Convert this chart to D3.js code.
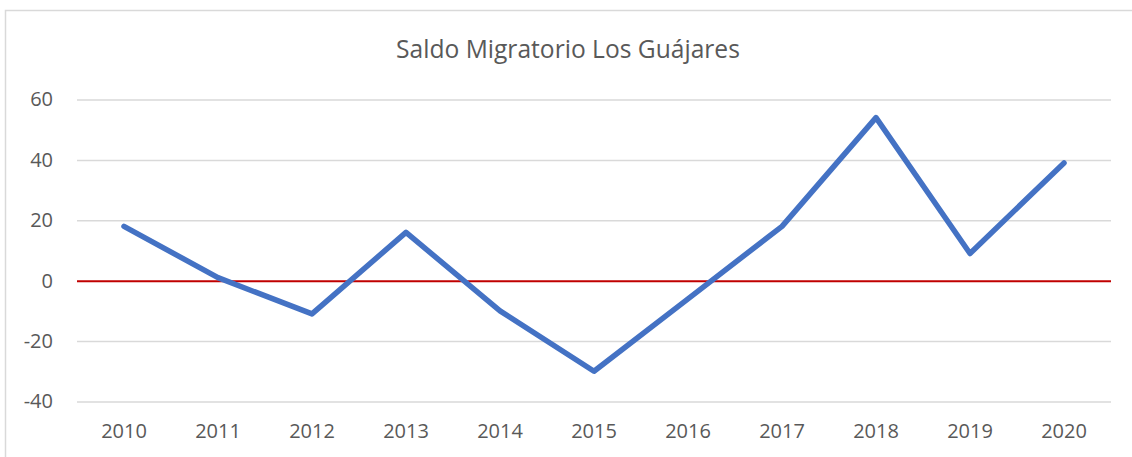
<!DOCTYPE html>
<html>
<head>
<meta charset="utf-8">
<script src="https://cdn.jsdelivr.net/npm/d3@7"></script>
<style>
body { margin: 0; background: #fff; }
text { font-family: "Open Sans", sans-serif; fill: #595959; }
</style>
</head>
<body>
<div id="chart"></div>
<script>
var years = ['2010','2011','2012','2013','2014','2015','2016','2017','2018','2019','2020'];
var saldo = [18, 1, -11, 16, -10, -30, -6, 18, 54, 9, 39];
var yTicks = [-40, -20, 0, 20, 40, 60];
var title = 'Saldo Migratorio Los Guájares';

var w = 1132,
	h = 457,
	plot_left = 77,
	plot_right = 1111,
	plot_top = 99.5,
	plot_bottom = 401.5;

var svg = d3.select('#chart').append('svg')
	.attr('width', w)
	.attr('height', h);

// chart frame
svg.append('rect')
	.attr('x', 5.5)
	.attr('y', 10.5)
	.attr('width', w + 20)
	.attr('height', h + 20)
	.attr('fill', '#fff')
	.attr('stroke', '#d9d9d9')
	.attr('stroke-width', 1.5);

var x = d3.scaleBand()
	.domain(years)
	.range([plot_left, plot_right]);

var y = d3.scaleLinear()
	.domain([-40, 60])
	.range([plot_bottom, plot_top]);

// gridlines + y labels (plain hyphen for negatives, like the original)
var yAxis = d3.axisLeft(y)
	.tickValues(yTicks)
	.tickFormat(function(d){ return String(d); })
	.tickSize(-(plot_right - plot_left))
	.tickPadding(24);

var gy = svg.append('g')
	.attr('transform', 'translate(' + plot_left + ',0)')
	.call(yAxis);
gy.select('.domain').remove();
gy.selectAll('.tick line')
	.attr('stroke', function(d){ return d === 0 ? '#c00000' : '#d9d9d9'; })
	.attr('stroke-width', function(d){ return d === 0 ? 2 : 1.5; });
gy.selectAll('.tick text')
	.attr('font-size', 20)
	.attr('font-family', '"Open Sans", sans-serif')
	.attr('fill', '#595959');

// keep the zero line on top of the other gridlines
gy.selectAll('.tick').filter(function(d){ return d === 0; }).raise();

// x labels
var xAxis = d3.axisBottom(x).tickSize(0).tickPadding(22);
var gx = svg.append('g')
	.attr('transform', 'translate(0,' + plot_bottom + ')')
	.call(xAxis);
gx.select('.domain').remove();
gx.selectAll('.tick text')
	.attr('font-size', 20)
	.attr('font-family', '"Open Sans", sans-serif')
	.attr('fill', '#595959');

// series line
var line = d3.line()
	.x(function(d, i){ return x(years[i]) + x.bandwidth() / 2; })
	.y(function(d){ return y(d); });

svg.append('path')
	.datum(saldo)
	.attr('d', line)
	.attr('fill', 'none')
	.attr('stroke', '#4472c4')
	.attr('stroke-width', 5.5)
	.attr('stroke-linejoin', 'round')
	.attr('stroke-linecap', 'round');

// title
svg.append('text')
	.attr('x', 568)
	.attr('y', 58)
	.attr('text-anchor', 'middle')
	.attr('font-size', 24.6)
	.text(title);
</script>
</body>
</html>
